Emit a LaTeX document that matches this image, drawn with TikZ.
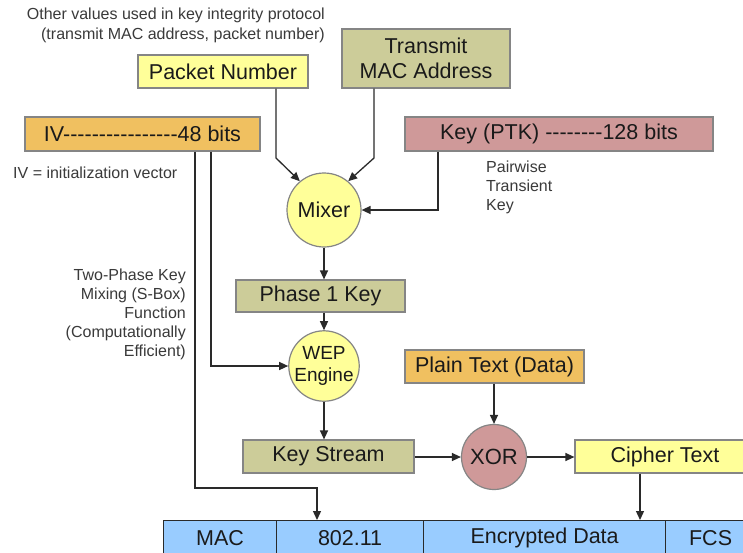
\documentclass[tikz,border=0pt]{standalone}
\usepackage{fontspec}
\setmainfont{Liberation Sans}
\usetikzlibrary{arrows.meta}
\definecolor{cyel}{HTML}{FFFF99}
\definecolor{coli}{HTML}{CCCC99}
\definecolor{cora}{HTML}{F0C060}
\definecolor{cpink}{HTML}{CF9999}
\definecolor{cblue}{HTML}{99CCFF}
\definecolor{bord}{HTML}{858585}
\definecolor{lin}{HTML}{2A2A2A}
\definecolor{txt}{HTML}{1A1A1A}
\definecolor{stxt}{HTML}{3A3A3A}
\newcommand\hy{-\kern0pt}
\begin{document}
\begin{tikzpicture}[x=1pt,y=-1pt,
  box/.style={draw=bord, line width=1.2pt, inner sep=0pt, text=txt, align=center,
    font=\fontsize{21.5}{25}\selectfont},
  circ/.style={circle, draw=bord, line width=1.2pt, fill=cyel, inner sep=0pt, text=txt,
    align=center, font=\fontsize{21.5}{24}\selectfont},
  cell/.style={draw=lin, line width=1.2pt, fill=cblue, inner sep=0pt, text=txt,
    minimum height=34pt, anchor=north west, font=\fontsize{21.5}{24}\selectfont},
  small/.style={text=stxt, inner sep=0pt, font=\fontsize{16}{19.5}\selectfont},
  arr/.style={draw=lin, line width=1.3pt, -{Triangle[length=9pt,width=8pt]}},
  ]
\fill[white] (0,0) rectangle (743,552);
\useasboundingbox (0,0) rectangle (743,552);
\clip (0,0) rectangle (743,552);

% top note
\node[small, align=right, anchor=north east, font=\fontsize{16}{20}\selectfont] (note) at (325,8)
  {Other values used in key integrity protocol\\(transmit MAC address, packet number)};

% boxes
\node[box, fill=cyel, minimum width=170pt, minimum height=33pt] (pn) at (223,71.5) {Packet Number};
\node[box, fill=coli, minimum width=168pt, minimum height=59pt] (tma) at (426,58.5) {Transmit\\MAC Address};
\node[box, fill=cora, minimum width=235pt, minimum height=34pt] (iv) at (142.5,134)
  {IV\hy\hy\hy\hy\hy\hy\hy\hy\hy\hy\hy\hy\hy\hy\hy\hy48 bits};
\node[box, fill=cpink, minimum width=308pt, minimum height=34pt] (ptk) at (559,134)
  {Key (PTK) \hy\hy\hy\hy\hy\hy\hy\hy128 bits};
\node[small, anchor=west] (ivnote) at (13,173) {IV = initialization vector};
\node[small, align=left, anchor=north west, font=\fontsize{16}{19}\selectfont] (ptknote) at (486,161) {Pairwise\\Transient\\Key};

\node[circ, minimum size=74pt] (mixer) at (324,210) {Mixer};
\node[box, fill=coli, minimum width=169pt, minimum height=32pt] (p1) at (320.5,296) {Phase 1 Key};
\node[circ, minimum size=70pt, font=\fontsize{19}{21.5}\selectfont] (wep) at (324,366) {WEP\\Engine};
\node[small, align=right, anchor=north east, font=\fontsize{16}{19}\selectfont] (twop) at (186,269)
  {Two-Phase Key\\Mixing (S-Box)\\Function\\(Computationally\\Efficient)};

\node[box, fill=cora, minimum width=179pt, minimum height=33pt] (pt) at (494.5,366.5) {Plain Text (Data)};
\node[box, fill=coli, minimum width=171pt, minimum height=33pt] (ks) at (328.5,456.5) {Key Stream};
\node[circ, fill=cpink, minimum size=65pt, font=\fontsize{22}{24}\selectfont] (xor) at (494,457) {XOR};
\node[box, fill=cyel, minimum width=180pt, minimum height=33pt] (ct) at (665,456.5) {Cipher Text};

% frame bar
\node[cell, minimum width=113pt] (mac) at (163,520) {MAC};
\node[cell, minimum width=147pt] (ieee) at (276,520) {802.11};
\node[cell, minimum width=242pt] (enc) at (423,520) {Encrypted Data};
\node[cell, minimum width=90pt] (fcs) at (665,520) {FCS};

% coordinates
\coordinate (pnb) at (276,158);
\coordinate (tmb) at (374,158);
\coordinate (ptkx) at (438,0);
\coordinate (ivr) at (211,0);
\coordinate (ivl) at (195,0);
\coordinate (ivbend) at (317,488);
\coordinate (ctx) at (640,0);

% connectors
\draw[arr] (pn.south -| pnb) -- (pnb) -- (mixer.130);
\draw[arr] (tma.south -| tmb) -- (tmb) -- (mixer.50);
\draw[arr] (ptk.south -| ptkx) |- (mixer.east);
\draw[arr] (iv.south -| ivr) |- (wep.west);
\draw[arr] (iv.south -| ivl) |- (ivbend) -- (ivbend |- ieee.north);
\draw[arr] (mixer.south) -- (mixer.south |- p1.north);
\draw[arr] (p1.south -| wep.north) -- (wep.north);
\draw[arr] (wep.south) -- (wep.south |- ks.north);
\draw[arr] (ks.east |- xor.west) -- (xor.west);
\draw[arr] (pt.south -| xor.north) -- (xor.north);
\draw[arr] (xor.east) -- (xor.east -| ct.west);
\draw[arr] (ct.south -| ctx) -- (enc.north -| ctx);
\end{tikzpicture}
\end{document}
